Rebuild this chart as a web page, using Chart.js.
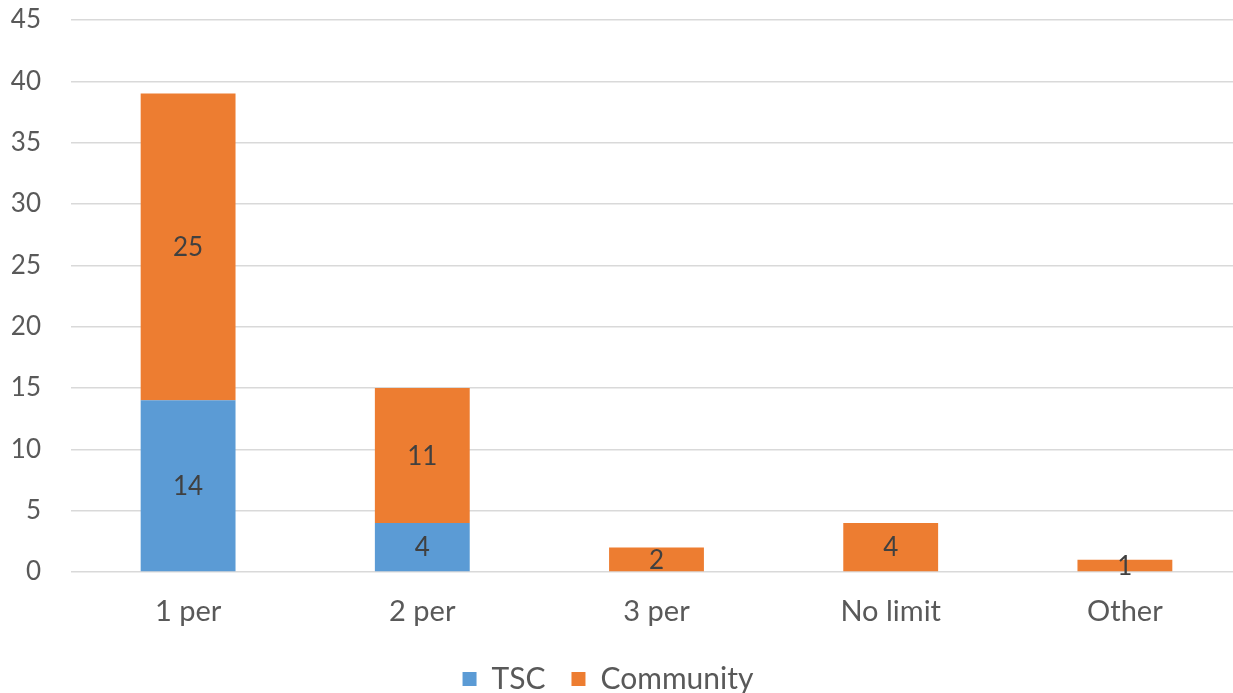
<!DOCTYPE html>
<html lang="en">
<head>
    <meta charset="UTF-8">
    <title>Limit per person</title>
    <script src="https://cdn.jsdelivr.net/npm/chart.js"></script>
    <style>
        html, body {
            margin: 0;
            padding: 0;
            background: #fff;
            overflow: hidden;
        }
        .wrap {
            width: 1233px;
            height: 693px;
            overflow: hidden;
        }
        #chart {
            margin-left: -39px;
            display: block;
        }
    </style>
</head>
<body>
    <div class="wrap">
        <canvas id="chart" width="1281" height="693"></canvas>
    </div>
    <script>
        const categories = ['1 per', '2 per', '3 per', 'No limit', 'Other'];
        const tscValues = [14, 4, 0, 0, 0];
        const communityValues = [25, 11, 2, 4, 1];
        const yTicks = [0, 5, 10, 15, 20, 25, 30, 35, 40, 45];

        const fontFamily = 'Lato, "Open Sans", sans-serif';

        // draw value in the middle of each non-zero bar segment
        const barLabels = {
            id: 'barLabels',
            afterDatasetsDraw(chart) {
                const ctx = chart.ctx;
                ctx.save();
                ctx.font = '26px ' + fontFamily;
                ctx.fillStyle = '#404040';
                ctx.textAlign = 'center';
                ctx.textBaseline = 'middle';
                chart.data.datasets.forEach((ds, i) => {
                    const meta = chart.getDatasetMeta(i);
                    meta.data.forEach((bar, j) => {
                        const v = ds.data[j];
                        if (!v) return;
                        const mid = (bar.y + bar.base) / 2;
                        ctx.fillText(String(v), bar.x, mid + 1);
                    });
                });
                ctx.restore();
            }
        };

        // legend sits a little left of the plot centre in the original
        const legendShift = {
            id: 'legendShift',
            afterLayout(chart) {
                const lg = chart.legend;
                if (!lg) return;
                lg.left -= 13;
                lg.right -= 13;
            }
        };

        new Chart(document.getElementById('chart').getContext('2d'), {
            type: 'bar',
            data: {
                labels: categories,
                datasets: [
                    {
                        label: 'TSC',
                        data: tscValues,
                        backgroundColor: '#5B9BD5',
                        categoryPercentage: 1,
                        barPercentage: 0.405
                    },
                    {
                        label: 'Community',
                        data: communityValues,
                        backgroundColor: '#ED7D31',
                        categoryPercentage: 1,
                        barPercentage: 0.405
                    }
                ]
            },
            options: {
                responsive: false,
                animation: false,
                layout: {
                    padding: { top: 20, right: 0, bottom: -11, left: 39 }
                },
                scales: {
                    x: {
                        stacked: true,
                        grid: { display: false },
                        border: { display: false },
                        ticks: {
                            color: '#595959',
                            font: { family: fontFamily, size: 29 },
                            padding: 14
                        },
                        afterFit(axis) {
                            axis.height = 66;
                            axis.paddingLeft = 0;
                            axis.paddingRight = 0;
                        }
                    },
                    y: {
                        stacked: true,
                        min: 0,
                        max: 45,
                        afterBuildTicks(axis) {
                            axis.ticks = yTicks.map(v => ({ value: v }));
                        },
                        grid: { color: '#D9D9D9', lineWidth: 1.5, drawTicks: false },
                        border: { display: false },
                        ticks: {
                            color: '#595959',
                            font: { family: fontFamily, size: 26 },
                            padding: 30
                        },
                        afterFit(axis) {
                            axis.width = 71;
                            axis.paddingTop = 0;
                            axis.paddingBottom = 0;
                        }
                    }
                },
                plugins: {
                    legend: {
                        position: 'bottom',
                        labels: {
                            color: '#595959',
                            font: { family: fontFamily, size: 30 },
                            boxWidth: 14,
                            boxHeight: 14,
                            padding: 26
                        }
                    },
                    tooltip: { enabled: false }
                }
            },
            plugins: [barLabels, legendShift]
        });
    </script>
</body>
</html>
